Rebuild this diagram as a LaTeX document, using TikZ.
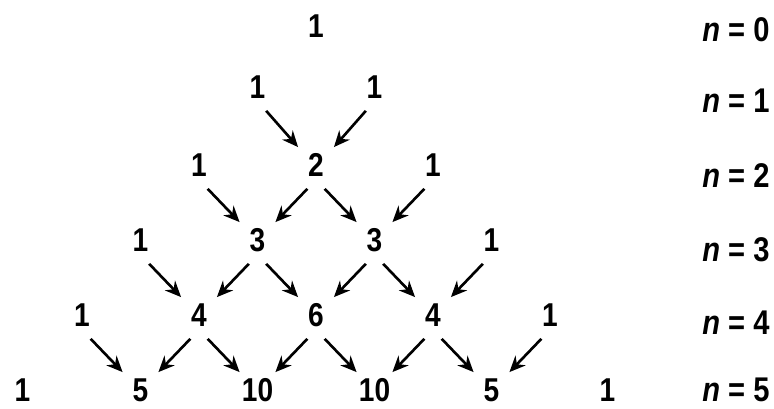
\documentclass[tikz,border=0pt]{standalone}
\usepackage{fontspec}
\setmainfont{Liberation Sans}[FakeStretch=0.85]
\usetikzlibrary{arrows.meta, positioning}
\tikzset{
  num/.style={
      circle,
      minimum size=1cm,
      inner sep=0pt,
      font=\fontsize{18.8}{22}\selectfont\bfseries
    },
  lab/.style={
      anchor=west,
      inner sep=0pt,
      font=\fontsize{19.5}{22}\selectfont\bfseries
    },
  arw/.style={
      -{Stealth[length=3.2mm, width=2.8mm]},
      line width=1.5pt
    }
}
\begin{document}
\begin{tikzpicture}
  \useasboundingbox (0,0) rectangle (15.48,-8.16);
  % rows of the triangle
  \node[num] (p00) at (6.32,-0.52) {1};
  \node[num] (p10) at (5.15,-1.74) {1}; \node[num] (p11) at (7.49,-1.74) {1};
  \node[num] (p20) at (3.98,-3.30) {1}; \node[num] (p21) at (6.32,-3.30) {2};
  \node[num] (p22) at (8.66,-3.30) {1};
  \node[num] (p30) at (2.81,-4.80) {1}; \node[num] (p31) at (5.15,-4.80) {3};
  \node[num] (p32) at (7.49,-4.80) {3}; \node[num] (p33) at (9.83,-4.80) {1};
  \node[num] (p40) at (1.64,-6.30) {1}; \node[num] (p41) at (3.98,-6.30) {4};
  \node[num] (p42) at (6.32,-6.30) {6}; \node[num] (p43) at (8.66,-6.30) {4};
  \node[num] (p44) at (11.00,-6.30) {1};
  \node[num] (p50) at (0.45,-7.80) {1}; \node[num] (p51) at (2.81,-7.80) {5};
  \node[num] (p52) at (5.15,-7.80) {10}; \node[num] (p53) at (7.49,-7.80) {10};
  \node[num] (p54) at (9.83,-7.80) {5}; \node[num] (p55) at (12.15,-7.80) {1};
  % row labels
  \node[lab] (n0) at (14.04,-0.60) {\textit{n} = 0};
  \node[lab] (n1) at (14.04,-2.02) {\textit{n} = 1};
  \node[lab] (n2) at (14.04,-3.52) {\textit{n} = 2};
  \node[lab] (n3) at (14.04,-5.00) {\textit{n} = 3};
  \node[lab] (n4) at (14.04,-6.46) {\textit{n} = 4};
  \node[lab] (n5) at (14.04,-7.80) {\textit{n} = 5};
  % sums
  \draw[arw] (p10.-70) -- (p21.135); \draw[arw] (p11.-110) -- (p21.45);
  \draw[arw] (p20.-70) -- (p31.135); \draw[arw] (p21.-110) -- (p31.45);
  \draw[arw] (p21.-70) -- (p32.135); \draw[arw] (p22.-110) -- (p32.45);
  \draw[arw] (p30.-70) -- (p41.135); \draw[arw] (p31.-110) -- (p41.45);
  \draw[arw] (p31.-70) -- (p42.135); \draw[arw] (p32.-110) -- (p42.45);
  \draw[arw] (p32.-70) -- (p43.135); \draw[arw] (p33.-110) -- (p43.45);
  \draw[arw] (p40.-70) -- (p51.135); \draw[arw] (p41.-110) -- (p51.45);
  \draw[arw] (p41.-70) -- (p52.135); \draw[arw] (p42.-110) -- (p52.45);
  \draw[arw] (p42.-70) -- (p53.135); \draw[arw] (p43.-110) -- (p53.45);
  \draw[arw] (p43.-70) -- (p54.135); \draw[arw] (p44.-110) -- (p54.45);
\end{tikzpicture}
\end{document}
